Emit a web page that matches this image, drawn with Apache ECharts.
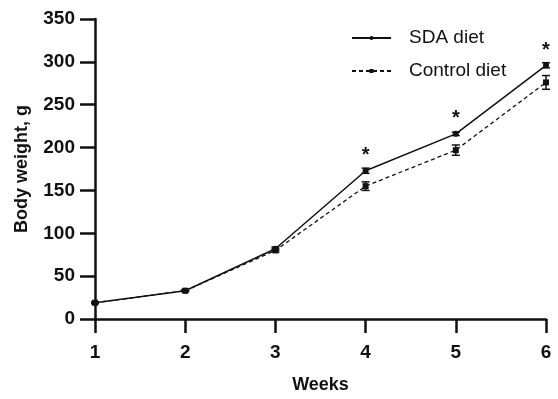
<!DOCTYPE html>
<html>
<head>
<meta charset="utf-8">
<script src="https://cdn.jsdelivr.net/npm/echarts@6/dist/echarts.min.js"></script>
<style>
  html, body { margin: 0; padding: 0; background: #fff; }
  #chart { width: 558px; height: 399px; }
</style>
</head>
<body>
<div id="chart"></div>
<script>
// Body weight over six weeks, mean ± error
const weeks = [1, 2, 3, 4, 5, 6];
const sdaMean = [19, 33, 82, 173, 216, 296];
const sdaErr = [1, 1, 2, 3, 2, 3];
const ctrlMean = [19, 33, 80, 155, 197, 276];
const ctrlErr = [1, 1, 2, 5, 6, 8];
const significant = [false, false, false, true, true, true];
const yTicks = [0, 50, 100, 150, 200, 250, 300, 350];

const font = '"Liberation Sans", Arial, Helvetica, sans-serif';

function errorBarSeries(name, means, errs) {
  return {
    type: 'custom',
    name: name + ' error',
    silent: true,
    z: 4,
    data: weeks.map((w, i) => [w, means[i] - errs[i], means[i] + errs[i]]),
    renderItem: function (params, api) {
      const x = api.value(0);
      const lo = api.coord([x, api.value(1)]);
      const hi = api.coord([x, api.value(2)]);
      const half = 4;
      const style = { stroke: '#111', lineWidth: 1.5 };
      return {
        type: 'group',
        children: [
          { type: 'line', shape: { x1: lo[0], y1: lo[1], x2: hi[0], y2: hi[1] }, style: style },
          { type: 'line', shape: { x1: lo[0] - half, y1: lo[1], x2: lo[0] + half, y2: lo[1] }, style: style },
          { type: 'line', shape: { x1: hi[0] - half, y1: hi[1], x2: hi[0] + half, y2: hi[1] }, style: style }
        ]
      };
    }
  };
}

const chart = echarts.init(document.getElementById('chart'));
chart.setOption({
  backgroundColor: '#fff',
  animation: false,
  grid: { left: 95, right: 12, top: 19, bottom: 80 },
  legend: {
    orient: 'vertical',
    left: 346,
    top: 23,
    itemWidth: 39,
    itemHeight: 5,
    itemGap: 13,
    data: ['SDA diet', 'Control diet'],
    textStyle: { fontFamily: font, fontSize: 19, color: '#111', padding: [0, 0, 0, 13], lineHeight: 20 }
  },
  xAxis: {
    type: 'value',
    min: 1,
    max: 6,
    interval: 1,
    name: 'Weeks',
    nameLocation: 'middle',
    nameGap: 57,
    nameTextStyle: { fontFamily: font, fontSize: 18, fontWeight: 'bold', color: '#111' },
    axisLine: { lineStyle: { color: '#111', width: 2.5 } },
    axisTick: { inside: false, length: 14, lineStyle: { color: '#111', width: 2.5 } },
    axisLabel: { margin: 24, fontFamily: font, fontSize: 19, fontWeight: 'bold', color: '#111' },
    splitLine: { show: false }
  },
  yAxis: {
    type: 'value',
    min: yTicks[0],
    max: yTicks[yTicks.length - 1],
    interval: 50,
    name: 'Body weight, g',
    nameLocation: 'middle',
    nameGap: 64,
    nameTextStyle: { fontFamily: font, fontSize: 18, fontWeight: 'bold', color: '#111' },
    axisLine: { show: true, lineStyle: { color: '#111', width: 2.5 } },
    axisTick: { show: true, inside: false, length: 15, lineStyle: { color: '#111', width: 2.5 } },
    axisLabel: { margin: 20, fontFamily: font, fontSize: 19, fontWeight: 'bold', color: '#111' },
    splitLine: { show: false }
  },
  series: [
    {
      name: 'SDA diet',
      type: 'line',
      z: 5,
      symbol: 'circle',
      symbolSize: 6,
      itemStyle: { color: '#111' },
      lineStyle: { color: '#111', width: 1.5 },
      data: weeks.map((w, i) => ({
        value: [w, sdaMean[i]],
        label: {
          show: significant[i],
          formatter: '*',
          position: 'top',
          distance: 2,
          fontFamily: font,
          fontSize: 20,
          fontWeight: 'bold',
          color: '#111'
        }
      }))
    },
    {
      name: 'Control diet',
      type: 'line',
      z: 5,
      symbol: 'rect',
      symbolSize: 6,
      itemStyle: { color: '#111' },
      lineStyle: { color: '#111', width: 1.3, type: [4, 3] },
      data: weeks.map((w, i) => [w, ctrlMean[i]])
    },
    errorBarSeries('SDA diet', sdaMean, sdaErr),
    errorBarSeries('Control diet', ctrlMean, ctrlErr)
  ]
});
</script>
</body>
</html>
